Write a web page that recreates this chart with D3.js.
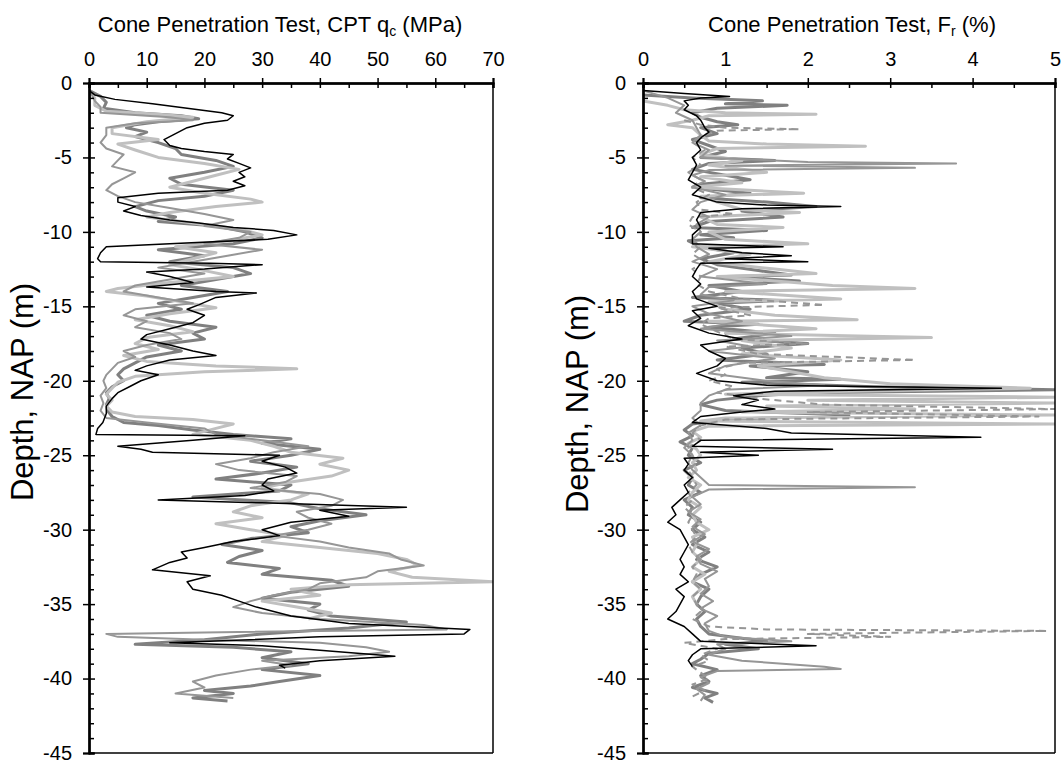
<!DOCTYPE html>
<html>
<head>
<meta charset="utf-8">
<script src="https://cdn.jsdelivr.net/npm/d3@7"></script>
<style>
  body { margin: 0; background: #fff; }
  text { font-family: "Liberation Sans", Arial, sans-serif; fill: #000; }
</style>
</head>
<body>
<svg id="chart" width="1062" height="765"></svg>
<script>
// Depth axis (m, relative to NAP) and value axes
const depthTicks = [0, -5, -10, -15, -20, -25, -30, -35, -40, -45];
const qcTicks = [0, 10, 20, 30, 40, 50, 60, 70];
const frTicks = [0, 1, 2, 3, 4, 5];

// Cone resistance qc (MPa) per sounding, as [depth, value]
const qcBlack = [[-0.5,0],[-0.8,1],[-1.1,4.5],[-1.4,11],[-1.8,19],[-2.0,23],[-2.2,25],[-2.5,24],[-2.7,20],[-3.0,17],[-3.4,15],[-3.8,13],[-4.2,14],[-4.4,16],[-4.6,20],[-4.8,25],[-5.1,24],[-5.4,26],[-5.7,28],[-6.0,26],[-6.3,27],[-6.6,25],[-6.9,27],[-7.2,24],[-7.4,12],[-7.7,5],[-8.0,5],[-8.3,8],[-8.6,6],[-8.9,9],[-9.2,14],[-9.4,19],[-9.7,25],[-9.9,32],[-10.2,36],[-10.5,31],[-10.8,14],[-11.0,3],[-11.4,2],[-11.8,1.5],[-12.0,2],[-12.1,21],[-12.2,30],[-12.5,20],[-12.7,10],[-13.0,14],[-13.4,18],[-13.7,10],[-14.0,22],[-14.1,29],[-14.4,22],[-14.9,19],[-15.2,17],[-15.6,20],[-16.1,18],[-16.5,14],[-16.9,10],[-17.2,9],[-17.6,14],[-18.0,18],[-18.3,22],[-18.6,14],[-19.0,10],[-19.3,8],[-19.6,12],[-20.0,9],[-20.4,7],[-20.8,5],[-21.2,4],[-21.7,3],[-22.2,3],[-22.8,2.4],[-23.2,1.5],[-23.6,1.2],[-23.7,27],[-24.0,18],[-24.4,5],[-24.6,9],[-24.8,11],[-25.0,33],[-25.4,30],[-25.8,34],[-26.2,36],[-26.6,31],[-27.0,30],[-27.4,32],[-27.7,27],[-28.0,12],[-28.2,30],[-28.5,55],[-28.7,40],[-29.1,45],[-29.5,35],[-30.0,30],[-30.4,33],[-30.8,25],[-31.2,20],[-31.5,16],[-31.9,17],[-32.2,14],[-32.7,11],[-33.1,21],[-33.5,17],[-34.0,18],[-34.4,23],[-34.8,26],[-35.2,29],[-35.8,35],[-36.3,45],[-36.7,66],[-37.0,65],[-37.2,40],[-37.6,14],[-37.8,30],[-38.1,40],[-38.5,53],[-38.8,40],[-39.1,33],[-39.3,34]];

const qcDark = [[-0.5,0],[-0.9,2],[-1.3,3],[-1.7,2.5],[-2.0,8],[-2.2,16],[-2.4,19],[-2.6,12],[-2.8,8],[-3.0,6.5],[-3.3,10],[-3.6,8],[-4.0,12],[-4.4,15],[-4.8,16],[-5.2,22],[-5.6,25],[-6.0,20],[-6.4,14],[-6.8,16],[-7.2,25],[-7.6,20],[-7.9,12],[-8.3,8],[-8.6,10],[-9.0,15],[-9.3,12],[-9.6,22],[-10.0,27],[-10.4,30],[-10.8,25],[-11.2,12],[-11.6,20],[-12.0,14],[-12.4,25],[-12.8,28],[-13.2,22],[-13.6,16],[-14.0,24],[-14.4,18],[-14.8,12],[-15.2,16],[-15.6,10],[-16.0,14],[-16.4,22],[-16.8,18],[-17.2,20],[-17.6,12],[-18.0,16],[-18.4,10],[-18.8,8],[-19.2,6],[-19.6,5],[-20.0,6],[-20.4,4],[-20.8,3],[-21.2,3.5],[-21.6,3],[-22.0,3.2],[-22.4,4],[-22.8,6],[-23.0,12],[-23.3,18],[-23.6,25],[-23.9,35],[-24.2,30],[-24.6,40],[-25.0,35],[-25.4,28],[-25.8,36],[-26.2,30],[-26.6,22],[-27.0,35],[-27.4,33],[-27.8,18],[-28.2,35],[-28.6,40],[-29.0,48],[-29.4,40],[-29.8,35],[-30.2,38],[-30.6,28],[-31.0,23],[-31.4,30],[-31.8,26],[-32.2,24],[-32.6,33],[-33.0,30],[-33.4,42],[-33.8,45],[-34.2,35],[-34.6,30],[-35.0,40],[-35.4,38],[-35.8,42],[-36.2,55],[-36.6,45],[-37.0,30],[-37.4,20],[-37.7,8],[-37.9,25],[-38.2,35],[-38.6,30],[-39.0,38],[-39.4,30],[-39.8,40],[-40.2,33],[-40.5,28],[-40.8,20],[-41.0,25],[-41.3,18],[-41.5,24]];

const qcLight = [[-0.5,0],[-1.0,1],[-1.5,1],[-1.9,3],[-2.1,12],[-2.3,18],[-2.6,10],[-3.0,4],[-3.4,4],[-3.8,12],[-4.1,5],[-4.5,8],[-5.0,12],[-5.4,20],[-5.8,26],[-6.2,22],[-6.6,18],[-7.0,14],[-7.4,20],[-7.8,28],[-8.0,30],[-8.3,22],[-8.7,14],[-9.0,10],[-9.4,18],[-9.8,26],[-10.2,30],[-10.6,24],[-11.0,15],[-11.4,22],[-11.8,18],[-12.2,14],[-12.6,20],[-13.0,25],[-13.4,14],[-13.8,5],[-14.0,3],[-14.3,10],[-14.7,16],[-15.1,22],[-15.5,14],[-15.9,8],[-16.3,14],[-16.7,18],[-17.1,10],[-17.5,8],[-17.9,12],[-18.3,6],[-18.7,10],[-19.0,22],[-19.2,36],[-19.4,20],[-19.7,8],[-20.1,5],[-20.5,4],[-20.9,3],[-21.3,4],[-21.7,3],[-22.1,4],[-22.4,8],[-22.6,18],[-22.9,25],[-23.2,22],[-23.6,18],[-24.0,28],[-24.4,32],[-24.8,35],[-25.2,44],[-25.6,40],[-26.0,45],[-26.4,42],[-26.8,35],[-27.2,30],[-27.6,38],[-28.0,35],[-28.4,28],[-28.8,25],[-29.2,30],[-29.6,22],[-30.0,28],[-30.4,34],[-30.8,30],[-31.2,40],[-31.6,50],[-32.0,55],[-32.4,57],[-32.8,52],[-33.2,56],[-33.5,70],[-33.7,45],[-34.0,35],[-34.4,40],[-34.8,30],[-35.2,36],[-35.6,42],[-36.0,38]];

const qcGray = [[-0.5,0],[-0.8,0.5],[-1.2,1],[-1.6,2],[-2.0,2],[-2.3,14],[-2.5,18],[-2.7,8],[-3.0,3],[-3.5,3],[-4.0,2],[-4.4,3],[-4.8,6],[-5.2,5],[-5.6,4],[-6.0,8],[-6.4,6],[-6.8,4],[-7.2,3],[-7.6,5],[-8.0,8],[-8.4,14],[-8.8,20],[-9.2,25],[-9.6,20],[-10.0,28],[-10.4,26],[-10.8,20],[-11.2,30],[-11.6,24],[-12.0,18],[-12.4,12],[-12.8,20],[-13.2,14],[-13.6,8],[-14.0,6],[-14.4,12],[-14.8,18],[-15.2,8],[-15.6,6],[-16.0,10],[-16.4,8],[-16.8,14],[-17.2,16],[-17.6,10],[-18.0,6],[-18.4,8],[-18.8,5],[-19.2,4],[-19.6,3],[-20.0,2.5],[-20.5,3],[-21.0,2],[-21.5,2.5],[-22.0,2],[-22.5,3],[-22.8,10],[-23.2,20],[-23.6,22],[-24.0,30],[-24.4,38],[-24.8,32],[-25.2,28],[-25.6,22],[-26.0,26],[-26.4,36],[-26.8,34],[-27.2,28],[-27.6,40],[-28.0,44],[-28.4,42],[-28.8,36],[-29.2,38],[-29.6,42],[-30.0,38],[-30.4,32],[-30.8,40],[-31.2,45],[-31.6,52],[-32.0,54],[-32.4,58],[-32.8,50],[-33.2,48],[-33.6,40],[-34.0,38],[-34.4,32],[-34.8,28],[-35.2,25],[-35.6,30],[-36.0,40],[-36.4,58],[-36.7,62],[-36.9,20],[-37.0,3],[-37.2,5],[-37.4,20],[-37.6,40],[-37.9,48],[-38.2,52],[-38.5,45],[-38.8,30],[-39.1,35],[-39.4,28],[-39.8,22],[-40.2,18],[-40.6,20],[-41.0,15],[-41.3,25]];

// Friction ratio Fr (%) per sounding, as [depth, value]
const frBlack = [[-0.5,0],[-0.7,0.5],[-0.9,1.05],[-1.0,0.7],[-1.2,0.5],[-1.5,0.55],[-1.8,0.5],[-2.2,0.65],[-2.5,0.7],[-3.0,0.75],[-3.3,0.8],[-3.6,0.72],[-4.0,0.65],[-4.5,0.7],[-5.0,0.6],[-5.5,0.65],[-6.0,0.6],[-6.5,0.55],[-7.0,0.7],[-7.5,0.6],[-8.0,0.9],[-8.2,1.5],[-8.3,2.4],[-8.45,1.2],[-8.7,0.7],[-9.2,0.65],[-9.7,0.7],[-10.2,0.6],[-10.8,0.6],[-11.0,1.7],[-11.1,0.8],[-11.4,1.2],[-11.6,1.8],[-11.8,1.0],[-12.0,2.0],[-12.1,0.7],[-12.5,0.65],[-13.0,0.6],[-13.5,0.7],[-14.0,0.6],[-14.5,0.65],[-15.0,0.9],[-15.3,0.6],[-15.8,0.7],[-16.3,0.55],[-16.8,0.8],[-17.2,1.2],[-17.6,0.7],[-18.0,0.8],[-18.5,1.0],[-19.0,0.9],[-19.5,0.65],[-20.0,0.9],[-20.3,1.5],[-20.5,4.35],[-20.7,1.6],[-21.0,1.1],[-21.3,1.4],[-21.6,1.2],[-21.9,1.6],[-22.1,1.2],[-22.4,0.7],[-22.8,0.6],[-23.2,1.5],[-23.5,1.8],[-23.8,4.1],[-24.0,0.7],[-24.4,0.6],[-24.6,2.3],[-24.8,0.7],[-25.0,1.4],[-25.2,0.5],[-25.6,0.55],[-26.0,0.5],[-26.5,0.6],[-27.0,0.5],[-27.5,0.55],[-28.0,0.45],[-28.5,0.35],[-29.0,0.4],[-29.5,0.3],[-30.0,0.45],[-30.5,0.5],[-31.0,0.55],[-31.5,0.5],[-32.0,0.45],[-32.5,0.5],[-33.0,0.45],[-33.5,0.55],[-34.0,0.4],[-34.5,0.5],[-35.0,0.45],[-35.5,0.4],[-36.0,0.3],[-36.5,0.5],[-37.0,0.6],[-37.5,0.7],[-37.8,2.1],[-38.0,0.7],[-38.4,0.6],[-38.8,0.55],[-39.2,0.6]];

const frDark = [[-0.8,0],[-1.0,0.6],[-1.2,1.45],[-1.4,1.0],[-1.5,1.75],[-1.7,0.9],[-2.0,0.6],[-2.3,0.7],[-2.6,0.9],[-2.8,1.15],[-3.0,0.7],[-3.4,0.9],[-3.8,0.6],[-4.2,0.8],[-4.6,1.0],[-5.0,0.7],[-5.2,1.6],[-5.4,0.8],[-5.8,0.6],[-6.2,1.0],[-6.5,1.3],[-6.8,0.7],[-7.0,0.6],[-7.4,1.3],[-7.7,0.7],[-8.0,1.5],[-8.3,2.1],[-8.6,1.2],[-9.0,1.7],[-9.3,0.8],[-9.7,0.6],[-9.9,1.5],[-10.2,0.7],[-10.4,1.1],[-10.6,0.55],[-11.0,0.7],[-11.4,1.1],[-11.8,0.7],[-12.2,0.9],[-12.6,1.4],[-12.9,1.8],[-13.0,1.0],[-13.3,1.9],[-13.6,0.8],[-14.0,1.2],[-14.4,0.6],[-14.6,1.7],[-14.8,0.9],[-15.2,1.3],[-15.6,0.7],[-16.0,0.5],[-16.2,1.4],[-16.4,0.8],[-16.8,1.6],[-17.2,1.1],[-17.5,2.0],[-17.8,1.2],[-18.2,1.5],[-18.6,0.9],[-18.9,2.2],[-19.0,1.3],[-19.4,2.0],[-19.8,1.5],[-19.9,2.4],[-20.1,1.2],[-20.4,2.8],[-20.6,5.0],[-20.8,2.0],[-21.0,1.4],[-21.3,0.9],[-21.6,0.7],[-22.0,1.0],[-22.3,2.5],[-22.6,1.0],[-22.9,0.6],[-23.3,0.5],[-23.7,0.6],[-24.1,0.45],[-24.5,0.6],[-25.0,0.55],[-25.5,0.7],[-26.0,0.5],[-26.5,0.6],[-27.0,0.55],[-27.5,0.7],[-28.0,0.5],[-28.5,0.6],[-29.0,0.55],[-29.5,0.7],[-30.0,0.6],[-30.5,0.75],[-31.0,0.6],[-31.5,0.8],[-32.0,0.65],[-32.5,0.9],[-33.0,0.7],[-33.5,0.6],[-34.0,0.8],[-34.5,0.7],[-35.0,0.65],[-35.5,0.75],[-36.0,0.65],[-36.5,0.7],[-37.0,0.8],[-37.3,1.2],[-37.5,1.5],[-37.7,1.0],[-38.0,1.4],[-38.3,0.8],[-38.7,0.7],[-39.0,0.6],[-39.4,0.9],[-39.8,0.7],[-40.2,0.8],[-40.6,0.6],[-41.0,0.9],[-41.3,0.75],[-41.6,0.85]];

const frLight = [[-1.2,0],[-1.5,0.3],[-1.8,0.5],[-2.0,1.0],[-2.1,2.1],[-2.2,0.8],[-2.5,0.6],[-2.8,0.3],[-3.0,0.6],[-3.5,0.7],[-3.9,0.8],[-4.1,1.5],[-4.25,2.7],[-4.4,0.9],[-4.8,0.7],[-5.2,1.2],[-5.5,0.8],[-6.0,1.5],[-6.3,0.7],[-6.7,1.2],[-7.0,0.6],[-7.4,1.95],[-7.6,0.7],[-8.0,0.9],[-8.5,1.2],[-8.7,1.9],[-9.0,0.7],[-9.5,0.9],[-9.7,1.7],[-10.0,0.8],[-10.5,1.0],[-10.8,2.0],[-11.0,0.6],[-11.5,1.3],[-12.0,0.8],[-12.5,1.6],[-12.8,2.1],[-13.0,0.9],[-13.6,2.3],[-13.8,3.3],[-14.0,1.0],[-14.5,2.4],[-14.7,0.8],[-15.2,1.0],[-15.6,1.6],[-15.9,2.6],[-16.0,0.8],[-16.5,2.1],[-16.8,1.0],[-17.1,3.5],[-17.3,1.2],[-17.8,1.8],[-18.2,1.2],[-18.6,2.4],[-19.0,1.4],[-19.4,1.8],[-19.8,2.2],[-20.2,3.0],[-20.5,4.7],[-20.7,2.5],[-20.9,1.0],[-21.1,5.0],[-21.3,2.0],[-21.5,5.0],[-21.7,1.5],[-21.9,3.3],[-22.1,1.2],[-22.3,5.0],[-22.5,1.0],[-22.7,0.7],[-22.9,5.0],[-23.05,0.8],[-23.4,0.6],[-23.8,0.7],[-24.2,0.55],[-24.6,0.65],[-25.0,0.7],[-25.5,0.6],[-26.0,0.65],[-26.5,0.55],[-27.0,0.7],[-27.5,0.6],[-28.0,0.55],[-28.5,0.7],[-29.0,0.6],[-29.5,0.65],[-30.0,0.8],[-30.5,0.6],[-31.0,0.65],[-31.5,0.6],[-32.0,0.7],[-32.5,0.6],[-33.0,0.75],[-33.5,0.6],[-34.0,0.7],[-34.5,0.6],[-35.0,0.65]];

const frGray = [[-0.5,0],[-1.0,0.3],[-1.5,0.5],[-2.0,0.4],[-2.5,0.6],[-3.0,0.65],[-3.5,0.7],[-4.0,0.6],[-4.5,0.8],[-5.0,0.7],[-5.3,2.0],[-5.4,3.8],[-5.55,1.0],[-5.7,3.3],[-5.85,0.8],[-6.2,0.6],[-6.6,0.75],[-7.0,0.6],[-7.5,1.0],[-8.0,0.7],[-8.5,0.6],[-9.0,0.8],[-9.5,0.65],[-10.0,0.7],[-10.5,0.6],[-11.0,0.65],[-11.5,0.8],[-12.0,0.6],[-12.5,0.9],[-13.0,0.7],[-13.5,1.5],[-13.7,0.8],[-14.2,0.7],[-14.6,1.1],[-15.0,0.6],[-15.5,0.8],[-16.0,1.2],[-16.5,0.7],[-17.0,1.8],[-17.3,0.9],[-17.7,1.3],[-18.0,0.8],[-18.5,1.6],[-19.0,1.0],[-19.5,0.8],[-20.0,1.5],[-20.3,2.2],[-20.6,1.0],[-21.0,0.8],[-21.5,0.7],[-22.0,0.7],[-22.5,0.6],[-23.0,0.7],[-23.5,0.55],[-24.0,0.6],[-24.5,0.5],[-25.0,0.6],[-25.5,0.55],[-26.0,0.6],[-26.5,0.7],[-27.0,0.8],[-27.15,3.3],[-27.3,0.8],[-27.8,0.6],[-28.3,0.7],[-28.8,0.55],[-29.3,0.7],[-29.8,0.6],[-30.3,0.75],[-30.8,0.6],[-31.3,0.8],[-31.8,0.65],[-32.3,0.7],[-32.8,0.9],[-33.3,0.75],[-33.8,0.8],[-34.3,0.7],[-34.8,0.85],[-35.3,0.7],[-35.8,0.9],[-36.3,0.75],[-36.8,0.8],[-37.2,1.0],[-37.5,1.8],[-37.7,0.9],[-38.0,1.0],[-38.4,0.8],[-38.8,1.2],[-39.2,2.2],[-39.35,2.4],[-39.5,0.9],[-39.9,0.7],[-40.3,0.8],[-40.7,0.65],[-41.1,0.75],[-41.5,0.7]];

const frDashed = [[-2.5,0.5],[-2.8,0.7],[-3.0,1.0],[-3.1,1.9],[-3.2,0.9],[-3.6,0.7],[-4.0,0.6],[-4.5,0.75],[-5.0,0.6],[-5.5,0.7],[-6.0,0.55],[-6.5,0.7],[-7.0,0.6],[-7.5,0.8],[-8.0,0.65],[-8.5,0.7],[-8.8,1.1],[-9.0,0.6],[-9.5,0.55],[-10.0,0.7],[-10.5,0.6],[-11.0,0.7],[-11.5,0.6],[-12.0,0.75],[-12.5,0.6],[-13.0,0.7],[-13.5,0.65],[-14.0,0.8],[-14.5,1.2],[-14.9,2.2],[-15.1,0.9],[-15.6,1.3],[-15.8,0.8],[-16.2,0.7],[-16.7,0.9],[-17.2,1.1],[-17.5,2.0],[-17.7,1.0],[-18.2,1.4],[-18.6,3.3],[-18.8,1.2],[-19.2,0.9],[-19.6,1.0],[-20.0,0.8],[-20.4,1.1],[-20.8,0.9],[-21.2,1.4],[-21.6,2.2],[-21.9,5.0],[-22.1,2.0],[-22.4,4.8],[-22.6,1.0],[-23.0,0.7],[-23.5,0.6],[-24.0,0.7],[-24.5,0.55],[-25.0,0.6],[-25.5,0.65],[-26.0,0.55],[-26.5,0.6],[-27.0,0.65],[-27.5,0.55],[-28.0,0.6],[-28.5,0.5],[-29.0,0.6],[-29.5,0.55],[-30.0,0.6],[-30.5,0.65],[-31.0,0.55],[-31.5,0.6],[-32.0,0.7],[-32.5,0.6],[-33.0,0.65],[-33.5,0.6],[-34.0,0.7],[-34.5,0.6],[-35.0,0.65],[-35.5,0.7],[-36.0,0.6],[-36.5,0.8],[-36.7,1.5],[-36.8,4.9],[-37.0,2.0],[-37.2,3.0],[-37.35,1.0],[-37.6,0.5],[-38.0,0.9],[-38.4,0.7],[-38.8,0.8],[-39.2,0.6],[-39.6,0.7],[-40.0,0.8],[-40.4,0.6],[-40.8,0.75],[-41.2,0.6]];

// Line styles, drawn back to front
const styleDark = { color: "#808080", width: 3 };
const styleLight = { color: "#c0c0c0", width: 3 };
const styleGray = { color: "#969696", width: 2 };
const styleDashed = { color: "#969696", width: 2, dash: "7,5" };
const styleBlack = { color: "#000000", width: 1.5 };

const svg = d3.select("#chart");
const plotTop = 83, plotBottom = 753;
const y = d3.scaleLinear().domain([0, -45]).range([plotTop, plotBottom]);

function drawPanel(cfg) {
  const x = d3.scaleLinear().domain([0, cfg.max]).range([cfg.left, cfg.right]);
  const g = svg.append("g");
  const clipId = "clip-" + cfg.id;
  svg.append("clipPath").attr("id", clipId).append("rect")
    .attr("x", cfg.left).attr("y", plotTop).attr("width", cfg.right - cfg.left).attr("height", plotBottom - plotTop);

  const line = d3.line().x(d => x(d[1])).y(d => y(d[0]));
  const traces = g.append("g").attr("clip-path", `url(#${clipId})`);
  cfg.series.forEach(s => {
    traces.append("path").datum(s.data)
      .attr("d", line)
      .attr("fill", "none")
      .attr("stroke", s.style.color)
      .attr("stroke-width", s.style.width)
      .attr("stroke-linejoin", "round")
      .attr("stroke-dasharray", s.style.dash || null);
  });

  // frame: right and bottom edges
  g.append("line").attr("x1", cfg.right).attr("x2", cfg.right).attr("y1", plotTop).attr("y2", plotBottom)
    .attr("stroke", "#000").attr("stroke-width", 1.5);
  g.append("line").attr("x1", cfg.left).attr("x2", cfg.right).attr("y1", plotBottom).attr("y2", plotBottom)
    .attr("stroke", "#000").attr("stroke-width", 1.5);

  // top value axis: major ticks cross the line, minor ticks point inward
  const minorX = d3.range(0, cfg.max + 1e-9, cfg.minor).filter(v => !cfg.ticks.some(t => Math.abs(t - v) < 1e-9));
  g.append("g").attr("transform", `translate(0,${plotTop})`)
    .call(d3.axisTop(x).tickValues(cfg.ticks).tickSize(5).tickPadding(12).tickFormat(d => String(d)));
  g.append("g").attr("transform", `translate(0,${plotTop})`)
    .call(d3.axisBottom(x).tickValues(cfg.ticks).tickSize(5).tickFormat(""));
  g.append("g").attr("transform", `translate(0,${plotTop})`)
    .call(d3.axisBottom(x).tickValues(minorX).tickSize(5).tickFormat(""));

  // depth axis
  const minorY = d3.range(0, -45.0001, -1).filter(v => v % 5 !== 0);
  g.append("g").attr("transform", `translate(${cfg.left},0)`)
    .call(d3.axisLeft(y).tickValues(depthTicks).tickSize(6).tickPadding(11).tickFormat(d => String(d)));
  g.append("g").attr("transform", `translate(${cfg.left},0)`)
    .call(d3.axisRight(y).tickValues(depthTicks).tickSize(6).tickFormat(""));
  g.append("g").attr("transform", `translate(${cfg.left},0)`)
    .call(d3.axisRight(y).tickValues(minorY).tickSize(5).tickFormat(""));

  g.selectAll(".domain").attr("stroke", "#000").attr("stroke-width", 2);
  g.selectAll(".tick line").attr("stroke", "#000").attr("stroke-width", 1.5);
  g.selectAll(".tick text").attr("font-size", 20).attr("font-family", "Liberation Sans, Arial, sans-serif").attr("fill", "#000");

  // title with subscript
  const title = g.append("text").attr("x", cfg.titleX).attr("y", 32)
    .attr("text-anchor", "middle").attr("font-size", 22);
  title.append("tspan").text(cfg.title[0]);
  title.append("tspan").attr("font-size", 14).attr("dy", 4).text(cfg.title[1]);
  title.append("tspan").attr("dy", -4).text(cfg.title[2]);

  // depth label
  g.append("text")
    .attr("transform", `translate(${cfg.labelX},${cfg.labelY}) rotate(-90)`)
    .attr("text-anchor", "middle").attr("font-size", 31)
    .text("Depth, NAP (m)");
}

drawPanel({
  id: "qc", left: 89, right: 493, max: 70, ticks: qcTicks, minor: 5,
  title: ["Cone Penetration Test, CPT q", "c", " (MPa)"], titleX: 280,
  labelX: 33, labelY: 392,
  series: [
    { data: qcDark, style: styleDark },
    { data: qcLight, style: styleLight },
    { data: qcGray, style: styleGray },
    { data: qcBlack, style: styleBlack }
  ]
});

drawPanel({
  id: "fr", left: 643, right: 1055, max: 5, ticks: frTicks, minor: 0.5,
  title: ["Cone Penetration Test,  F", "r", " (%)"], titleX: 852,
  labelX: 588, labelY: 404,
  series: [
    { data: frDark, style: styleDark },
    { data: frLight, style: styleLight },
    { data: frGray, style: styleGray },
    { data: frDashed, style: styleDashed },
    { data: frBlack, style: styleBlack }
  ]
});
</script>
</body>
</html>
